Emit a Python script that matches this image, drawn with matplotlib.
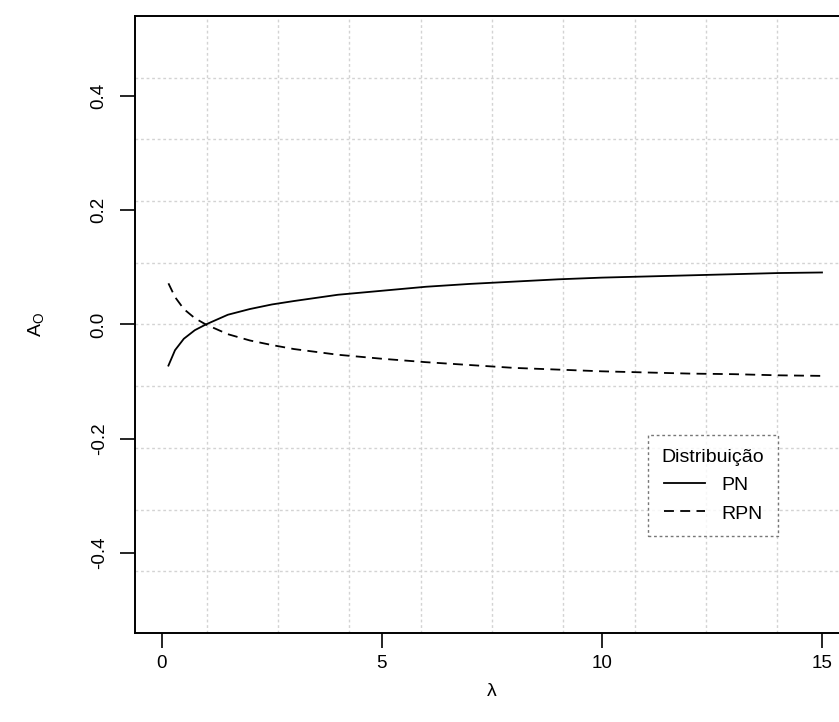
import numpy as np
import matplotlib
matplotlib.use("Agg")
import matplotlib.pyplot as plt

plt.rcParams['font.family'] = ['Liberation Sans', 'DejaVu Sans']
plt.rcParams['mathtext.fontset'] = 'custom'
plt.rcParams['mathtext.rm'] = 'Liberation Sans'
plt.rcParams['mathtext.it'] = 'Liberation Sans'
plt.rcParams['mathtext.default'] = 'regular'

# values
lam = [0.15, 0.3, 0.5, 0.75, 1, 1.5, 2, 2.5, 3, 4, 5, 6, 7, 8, 9, 10, 11, 12, 13, 14, 15]
pn = [-0.072, -0.045, -0.025, -0.010, 0.0, 0.017, 0.027, 0.035, 0.041, 0.052, 0.059,
      0.066, 0.071, 0.075, 0.079, 0.082, 0.084, 0.086, 0.088, 0.090, 0.091]
rpn = [0.072, 0.048, 0.027, 0.011, 0.0, -0.017, -0.028, -0.036, -0.043, -0.053, -0.060,
       -0.066, -0.071, -0.076, -0.079, -0.082, -0.084, -0.086, -0.087, -0.089, -0.090]
xticks = [0, 5, 10, 15]
yticks = [-0.4, -0.2, 0.0, 0.2, 0.4]

fig = plt.figure(figsize=(8.39, 7.22), dpi=100)
# plot region runs past the right edge, like the cropped original
ax = fig.add_axes([0.1614, 0.1233, 0.8498, 0.8546])

xlim = (-0.6, 15.6)
ylim = (-0.54, 0.54)
ax.set_xlim(*xlim)
ax.set_ylim(*ylim)

# grid(10, 10) style: equal cells over the plot region
gc = '#d3d3d3'
for gx in np.linspace(xlim[0], xlim[1], 11)[1:-1]:
    ax.axvline(gx, color=gc, lw=1.0, ls=(0, (2, 2)), zorder=0)
for gy in np.linspace(ylim[0], ylim[1], 11)[1:-1]:
    ax.axhline(gy, color=gc, lw=1.0, ls=(0, (2, 2)), zorder=0)

ax.plot(lam, pn, color='black', lw=1.3, label='PN')
ax.plot(lam, rpn, color='black', lw=1.3, ls=(0, (5.5, 3.5)), label='RPN')

ax.set_xticks(xticks)
ax.set_xticklabels([str(t) for t in xticks])
ax.set_yticks(yticks)
ax.set_yticklabels(['%.1f' % t for t in yticks], rotation=90, va='center')
ax.tick_params(direction='out', length=11, width=1.2, labelsize=13.5)
ax.tick_params(axis='x', pad=5)
ax.tick_params(axis='y', pad=9)
for s in ax.spines.values():
    s.set_linewidth(1.4)

ax.set_xlabel('λ', fontsize=14, labelpad=8)
ax.set_ylabel('$A_O$', fontsize=14, labelpad=32)

leg = ax.legend(title='Distribuição', loc='upper left', bbox_to_anchor=(0.719, 0.321),
                borderaxespad=0, fontsize=14, title_fontsize=14, handlelength=2.1,
                handletextpad=0.85, borderpad=0.7, labelspacing=0.5, handleheight=0.9,
                fancybox=False, alignment='center')
fr = leg.get_frame()
fr.set_edgecolor('#555555')
fr.set_linestyle((0, (2, 2)))
fr.set_linewidth(1.0)

fig.savefig('out.png', dpi=100)
